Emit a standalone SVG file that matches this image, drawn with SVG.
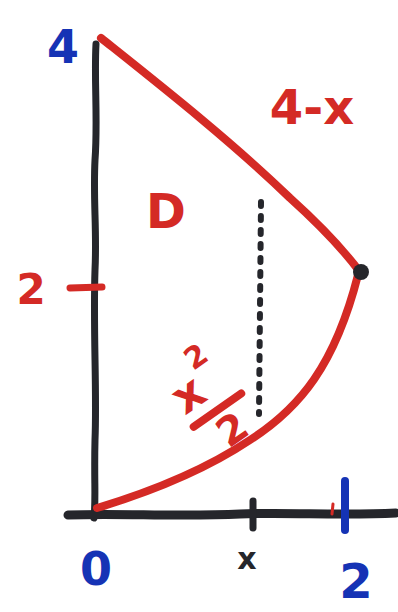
<svg xmlns="http://www.w3.org/2000/svg" width="398" height="612" viewBox="0 0 398 612">
<style>
.ink{fill:none;stroke-linecap:round;stroke-linejoin:round}
.red{stroke:#d42a25}
.blk{stroke:#25262b}
.blu{stroke:#1533b5}
.t{font-family:"DejaVu Sans",sans-serif;font-weight:bold}
.tr{fill:#d42a25}
.tb{fill:#1533b5}
.tk{fill:#25262b}
</style>
<rect width="398" height="612" fill="#ffffff"/>
<g id="axes">
<path class="ink blk" stroke-width="7" d="M96,44 C94,80 98,120 95,160 C93,200 97,230 95,270 C93,330 97,390 95,440 C94,480 96,500 94,518"/>
<path class="ink blk" stroke-width="9" d="M68,515 C120,513 180,517 240,514 C290,512 340,516 396,513"/>
<path class="ink blk" stroke-width="7" d="M253,501 L253,528"/>
<path class="ink blu" stroke-width="8" d="M345,481 L345,530"/>
<path class="ink red" stroke-width="3" d="M333,504 L332,514"/>
<path class="ink red" stroke-width="7" d="M70,288 L102,287"/>
</g>
<g id="region">
<path class="ink red" stroke-width="8" d="M101,38 C160,85 230,140 290,198 C320,225 342,248 360,272"/>
<path class="ink red" stroke-width="8" d="M97,508 C150,492 205,470 250,440 C300,408 335,365 358,275"/>
<circle cx="361" cy="272" r="8" fill="#25262b"/>
<path class="ink blk" stroke-width="6" stroke-dasharray="4 10" d="M261,202 L259,414"/>
</g>
<g id="labels">
<text class="t tb" x="63" y="63" font-size="46" text-anchor="middle">4</text>
<text class="t tr" x="312" y="124" font-size="48" text-anchor="middle">4-x</text>
<text class="t tr" x="166" y="228" font-size="48" text-anchor="middle">D</text>
<text class="t tr" x="31" y="304" font-size="42" text-anchor="middle">2</text>
<g transform="translate(206,406) rotate(-35)">
<text class="t tr" x="-8" y="-4" font-size="46" text-anchor="middle">x</text>
<text class="t tr" x="20" y="-36" font-size="30" text-anchor="middle">2</text>
<path class="ink red" stroke-width="8" d="M-22,10 L36,10"/>
<text class="t tr" x="8" y="48" font-size="40" text-anchor="middle">2</text>
</g>
<text class="t tk" x="247" y="569" font-size="30" text-anchor="middle">x</text>
<text class="t tb" x="96" y="585" font-size="46" text-anchor="middle">0</text>
<text class="t tb" x="356" y="598" font-size="48" text-anchor="middle">2</text>
</g>
</svg>
